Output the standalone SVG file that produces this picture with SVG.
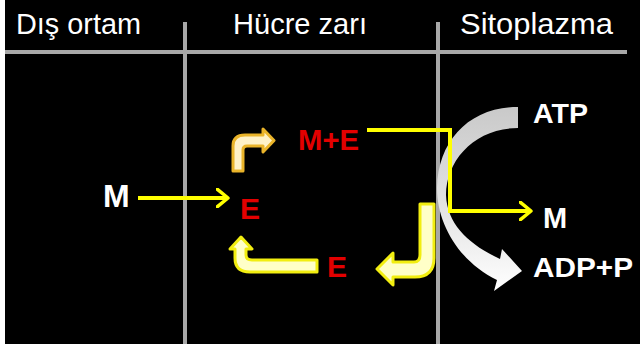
<svg xmlns="http://www.w3.org/2000/svg" width="640" height="344" viewBox="0 0 640 344">
  <defs>
    <style>
      .head { font-family: "Liberation Sans", Arial, sans-serif; font-size: 29px; fill: #ffffff; }
      .lbl { font-family: "Liberation Sans", Arial, sans-serif; font-weight: bold; fill: #ffffff; }
      .red { font-family: "Liberation Sans", Arial, sans-serif; font-weight: bold; fill: #e30000; }
      .divider { stroke: #a8a8a8; stroke-width: 4; fill: none; }
      .yline { stroke: #ffff00; stroke-width: 4; fill: none; stroke-linejoin: miter; }
      .bent-y { fill: #ffffc8; stroke: #f2ee10; stroke-width: 3; stroke-linejoin: round; }
      .bent-o { fill: #fff2c8; stroke: #eab42a; stroke-width: 3; stroke-linejoin: round; }
    </style>
    <marker id="chev" viewBox="0 0 14 20" refX="12" refY="10" markerWidth="14" markerHeight="20" markerUnits="userSpaceOnUse" orient="auto">
      <path d="M1,1 L12,10 L1,19" fill="none" stroke="#ffff00" stroke-width="3.5" stroke-linecap="round" stroke-linejoin="round"/>
    </marker>
    <linearGradient id="gbend" x1="0" y1="0" x2="0" y2="1">
      <stop offset="0" stop-color="#c9c9c9"/>
      <stop offset="0.6" stop-color="#e6e6e6"/>
      <stop offset="1" stop-color="#ffffff"/>
    </linearGradient>
  </defs>

  <!-- background -->
  <rect x="5" y="0" width="635" height="344" fill="#000000"/>

  <!-- column headers and dividers -->
  <g id="header">
    <text class="head" x="16" y="34" textLength="125" lengthAdjust="spacingAndGlyphs">Dış ortam</text>
    <text class="head" x="233" y="34" textLength="134" lengthAdjust="spacingAndGlyphs">Hücre zarı</text>
    <text class="head" x="460" y="34" textLength="153" lengthAdjust="spacingAndGlyphs">Sitoplazma</text>
    <line class="divider" x1="5" y1="52" x2="627" y2="52"/>
    <line class="divider" x1="185" y1="22" x2="185" y2="344"/>
    <line class="divider" x1="438" y1="22" x2="438" y2="344"/>
  </g>

  <!-- ATP to ADP+P curved arrow -->
  <g id="atp-arrow">
    <path d="M518,107 C470,107 438,140 437,188 C437,225 460,262 497,280 L494,291 L522,271 L502,249 L500,259 C470,245 447,225 446,195 C446,160 475,128 518,128 Z" fill="url(#gbend)"/>
  </g>

  <!-- nodes -->
  <g id="node-m-out"><text class="lbl" x="103" y="207" font-size="32">M</text></g>
  <g id="node-e"><text class="red" x="240" y="219" font-size="30">E</text></g>
  <g id="node-me"><text class="red" x="298" y="150" font-size="30" textLength="61" lengthAdjust="spacingAndGlyphs">M+E</text></g>
  <g id="node-e-free"><text class="red" x="327" y="277" font-size="30">E</text></g>
  <g id="node-atp"><text class="lbl" x="533" y="123" font-size="28" textLength="55" lengthAdjust="spacingAndGlyphs">ATP</text></g>
  <g id="node-m-in"><text class="lbl" x="543" y="228" font-size="29">M</text></g>
  <g id="node-adp"><text class="lbl" x="533" y="277" font-size="28" textLength="100" lengthAdjust="spacingAndGlyphs">ADP+P</text></g>

  <!-- connectors -->
  <g id="connectors">
    <line class="yline" x1="138" y1="198" x2="228" y2="198" marker-end="url(#chev)"/>
    <path class="yline" d="M367,130 H450 V211 H531" marker-end="url(#chev)"/>
    <!-- E binds M: bent arrow up and right -->
    <path class="bent-o" d="M233,171 L233,146 Q233,135 245,135 L263,135 L263,129 L274,140.5 L263,152 L263,146 L247,146 Q243,146 243,150 L243,171 Z"/>
    <!-- complex releases E: bent arrow down and left -->
    <path class="bent-y" d="M420,204 L434,204 L434,258 Q434,277 415,277 L393,277 L393,285 L377,269 L393,253 L393,262 L414,262 Q420,262 420,255 Z"/>
    <!-- free E returns: bent arrow left and up -->
    <path class="bent-y" d="M317,260 L317,272 L250,272 Q235,272 235,258 L235,249 L230,249 L241,237 L252,249 L246,249 L246,255 Q246,260 252,260 Z"/>
  </g>
</svg>
